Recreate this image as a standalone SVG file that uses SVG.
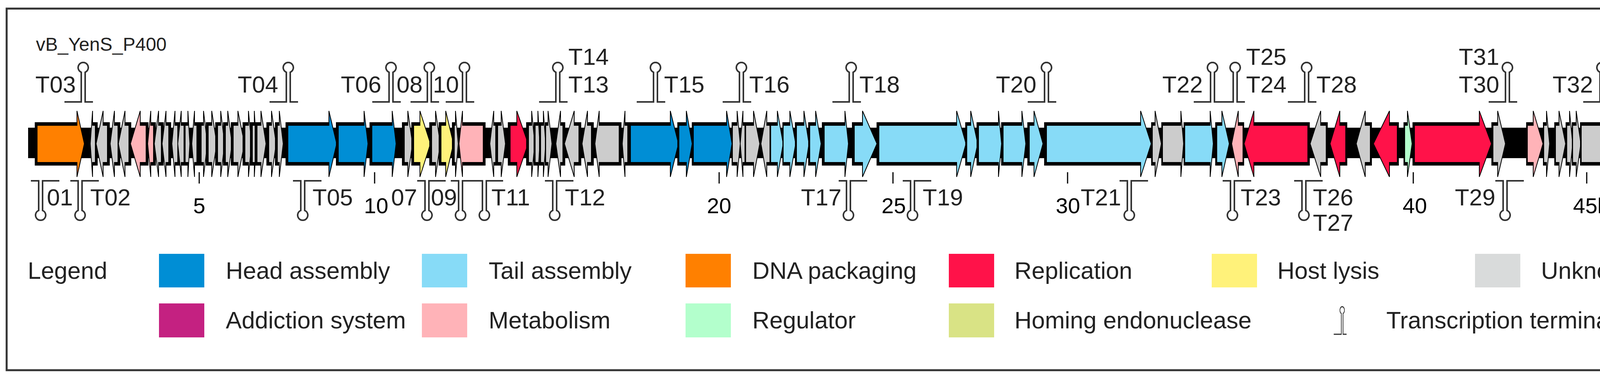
<svg xmlns="http://www.w3.org/2000/svg" xmlns:xlink="http://www.w3.org/1999/xlink" width="4284" height="968" viewBox="0 0 4284 968">
<style>
text{font-family:"Liberation Sans",Arial,sans-serif;fill:#222}
.lb{font-size:60px}
.sc{font-size:56px;fill:#000;text-anchor:middle}
.lg{font-size:61px}
.bx{fill:#000}
.gn{stroke:#000;stroke-width:2;stroke-linejoin:miter}
.O{fill:#FF8000}.G{fill:#CCCCCC}.P{fill:#FFB3B8}.B{fill:#008ED5}.L{fill:#87DBF7}.R{fill:#FF1249}.Y{fill:#FFF27A}.N{fill:#B3FFCC}
</style>
<defs>
<path id="term" d="M-48 0H-5V-76A13 13 0 1 1 5 -76V0H25" fill="#fff" stroke="#333" stroke-width="4"/>
</defs>
<rect x="17" y="22" width="4240" height="926" fill="#fff" stroke="#333" stroke-width="5"/>
<text x="92" y="130" style="font-size:48px">vB_YenS_P400</text>
<g id="genome">
<rect x="72" y="327" width="4134" height="78" fill="#000"/>
</g>
<g id="terminators">
<use href="#term" transform="translate(213,261)"/>
<use href="#term" transform="translate(738,261)"/>
<use href="#term" transform="translate(1001,261)"/>
<use href="#term" transform="translate(1099,261)"/>
<use href="#term" transform="translate(1189,261)"/>
<use href="#term" transform="translate(1428,261)"/>
<use href="#term" transform="translate(1678,261)"/>
<use href="#term" transform="translate(1898,261)"/>
<use href="#term" transform="translate(2179,261)"/>
<use href="#term" transform="translate(2679,261)"/>
<use href="#term" transform="translate(3104,261)"/>
<use href="#term" transform="translate(3162,261)"/>
<use href="#term" transform="translate(3345,261)"/>
<use href="#term" transform="translate(3859,261)"/>
<use href="#term" transform="translate(4101,261)"/>
<use href="#term" transform="translate(104,463) rotate(180)"/>
<use href="#term" transform="translate(205,463) rotate(180)"/>
<use href="#term" transform="translate(775,463) rotate(180)"/>
<use href="#term" transform="translate(1093,463) rotate(180)"/>
<use href="#term" transform="translate(1179,463) rotate(180)"/>
<use href="#term" transform="translate(1240,463) rotate(180)"/>
<use href="#term" transform="translate(1420,463) rotate(180)"/>
<use href="#term" transform="translate(2172,463) rotate(180)"/>
<use href="#term" transform="translate(2336,463) rotate(180)"/>
<use href="#term" transform="translate(2891,463) rotate(180)"/>
<use href="#term" transform="translate(3155,463) rotate(180)"/>
<use href="#term" transform="translate(3338,463) rotate(180)"/>
<use href="#term" transform="translate(3853,463) rotate(180)"/>
</g>
<g id="gene-list">
<g id="g1"><rect class="bx" x="89" y="313" width="108" height="111"/><polygon class="gn O" points="95,321 197,321 197,284 216,368 197,453 197,416 95,416"/></g>
<g id="g2"><rect class="bx" x="237" y="313" width="13" height="111"/><polygon class="gn G" points="244,321 237,321 237,284 231,368 237,453 237,416 244,416"/></g>
<g id="g3"><rect class="bx" x="264" y="313" width="17" height="111"/><polygon class="gn G" points="275,321 264,321 264,284 246,368 264,453 264,416 275,416"/></g>
<g id="g4"><rect class="bx" x="293" y="313" width="15" height="111"/><polygon class="gn G" points="302,321 293,321 293,284 282,368 293,453 293,416 302,416"/></g>
<g id="g5"><rect class="bx" x="320" y="313" width="16" height="111"/><polygon class="gn G" points="330,321 320,321 320,284 303,368 320,453 320,416 330,416"/></g>
<g id="g6"><rect class="bx" x="359" y="313" width="21" height="111"/><polygon class="gn P" points="374,321 359,321 359,284 334,368 359,453 359,416 374,416"/></g>
<g id="g7"><rect class="bx" x="386" y="313" width="13" height="111"/><polygon class="gn P" points="393,321 386,321 386,284 378,368 386,453 386,416 393,416"/></g>
<g id="g8"><rect class="bx" x="406" y="313" width="13" height="111"/><polygon class="gn G" points="413,321 406,321 406,284 395,368 406,453 406,416 413,416"/></g>
<g id="g9"><rect class="bx" x="425" y="313" width="13" height="111"/><polygon class="gn G" points="432,321 425,321 425,284 415,368 425,453 425,416 432,416"/></g>
<g id="g10"><rect class="bx" x="448" y="313" width="13" height="111"/><polygon class="gn G" points="455,321 448,321 448,284 440,368 448,453 448,416 455,416"/></g>
<g id="g11"><rect class="bx" x="464" y="313" width="12" height="111"/><polygon class="gn G" points="473,321 464,321 464,284 455,368 464,453 464,416 473,416"/></g>
<g id="g12"><rect class="bx" x="470" y="313" width="11" height="111"/><polygon class="gn G" points="474,321 481,321 481,284 486,368 481,453 481,416 474,416"/></g>
<g id="g13"><rect class="bx" x="498" y="313" width="12" height="111"/><polygon class="gn G" points="504,321 498,321 498,284 491,368 498,453 498,416 504,416"/></g>
<g id="g14"><rect class="bx" x="509" y="313" width="12" height="111"/><polygon class="gn G" points="515,321 521,321 521,284 531,368 521,453 521,416 515,416"/></g>
<g id="g15"><rect class="bx" x="527" y="313" width="15" height="111"/><polygon class="gn G" points="533,321 542,321 542,284 555,368 542,453 542,416 533,416"/></g>
<g id="g16"><rect class="bx" x="551" y="313" width="14" height="111"/><polygon class="gn G" points="557,321 565,321 565,284 575,368 565,453 565,416 557,416"/></g>
<g id="g17"><rect class="bx" x="571" y="313" width="12" height="111"/><polygon class="gn G" points="577,321 583,321 583,284 594,368 583,453 583,416 577,416"/></g>
<g id="g18"><rect class="bx" x="591" y="313" width="18" height="111"/><polygon class="gn G" points="597,321 609,321 609,284 626,368 609,453 609,416 597,416"/></g>
<g id="g19"><rect class="bx" x="621" y="313" width="15" height="111"/><polygon class="gn G" points="627,321 636,321 636,284 644,368 636,453 636,416 627,416"/></g>
<g id="g20"><rect class="bx" x="640" y="313" width="11" height="111"/><polygon class="gn G" points="646,321 651,321 651,284 656,368 651,453 651,416 646,416"/></g>
<g id="g21"><rect class="bx" x="652" y="313" width="16" height="111"/><polygon class="gn G" points="658,321 668,321 668,284 681,368 668,453 668,416 658,416"/></g>
<g id="g22"><rect class="bx" x="682" y="313" width="13" height="111"/><polygon class="gn G" points="688,321 695,321 695,284 707,368 695,453 695,416 688,416"/></g>
<g id="g23"><rect class="bx" x="704" y="313" width="11" height="111"/><polygon class="gn G" points="710,321 715,321 715,284 725,368 715,453 715,416 710,416"/></g>
<g id="g24"><rect class="bx" x="731" y="313" width="111" height="111"/><polygon class="gn B" points="737,321 842,321 842,284 862,368 842,453 842,416 737,416"/></g>
<g id="g25"><rect class="bx" x="860" y="313" width="72" height="111"/><polygon class="gn B" points="866,321 932,321 932,284 942,368 932,453 932,416 866,416"/></g>
<g id="g26"><rect class="bx" x="946" y="313" width="58" height="111"/><polygon class="gn B" points="952,321 1004,321 1004,284 1014,368 1004,453 1004,416 952,416"/></g>
<g id="g27"><rect class="bx" x="1029" y="313" width="15" height="111"/><polygon class="gn G" points="1035,321 1044,321 1044,284 1056,368 1044,453 1044,416 1035,416"/></g>
<g id="g28"><rect class="bx" x="1053" y="313" width="22" height="111"/><polygon class="gn Y" points="1059,321 1075,321 1075,284 1102,368 1075,453 1075,416 1059,416"/></g>
<g id="g29"><rect class="bx" x="1099" y="313" width="16" height="111"/><polygon class="gn G" points="1105,321 1115,321 1115,284 1127,368 1115,453 1115,416 1105,416"/></g>
<g id="g30"><rect class="bx" x="1123" y="313" width="18" height="111"/><polygon class="gn Y" points="1129,321 1141,321 1141,284 1161,368 1141,453 1141,416 1129,416"/></g>
<g id="g31"><rect class="bx" x="1157" y="313" width="9" height="111"/><polygon class="gn G" points="1163,321 1166,321 1166,284 1173,368 1166,453 1166,416 1163,416"/></g>
<g id="g32"><rect class="bx" x="1184" y="313" width="59" height="111"/><polygon class="gn P" points="1237,321 1184,321 1184,284 1175,368 1184,453 1184,416 1237,416"/></g>
<g id="g33"><rect class="bx" x="1264" y="313" width="13" height="111"/><polygon class="gn G" points="1271,321 1264,321 1264,284 1254,368 1264,453 1264,416 1271,416"/></g>
<g id="g34"><rect class="bx" x="1268" y="313" width="15" height="111"/><polygon class="gn G" points="1274,321 1283,321 1283,284 1294,368 1283,453 1283,416 1274,416"/></g>
<g id="g35"><rect class="bx" x="1300" y="313" width="23" height="111"/><polygon class="gn R" points="1306,321 1323,321 1323,284 1352,368 1323,453 1323,416 1306,416"/></g>
<g id="g36"><rect class="bx" x="1347" y="313" width="14" height="111"/><polygon class="gn G" points="1353,321 1361,321 1361,284 1369,368 1361,453 1361,416 1353,416"/></g>
<g id="g37"><rect class="bx" x="1366" y="313" width="11" height="111"/><polygon class="gn G" points="1370,321 1377,321 1377,284 1382,368 1377,453 1377,416 1370,416"/></g>
<g id="g38"><rect class="bx" x="1380" y="313" width="11" height="111"/><polygon class="gn G" points="1384,321 1391,321 1391,284 1397,368 1391,453 1391,416 1384,416"/></g>
<g id="g39"><rect class="bx" x="1395" y="313" width="8" height="111"/><polygon class="gn G" points="1397,321 1403,321 1403,284 1413,368 1403,453 1403,416 1397,416"/></g>
<g id="g40"><rect class="bx" x="1435" y="313" width="12" height="111"/><polygon class="gn G" points="1441,321 1435,321 1435,284 1423,368 1435,453 1435,416 1441,416"/></g>
<g id="g41"><rect class="bx" x="1470" y="313" width="18" height="111"/><polygon class="gn G" points="1482,321 1470,321 1470,284 1445,368 1470,453 1470,416 1482,416"/></g>
<g id="g42"><rect class="bx" x="1504" y="313" width="16" height="111"/><polygon class="gn G" points="1514,321 1504,321 1504,284 1490,368 1504,453 1504,416 1514,416"/></g>
<g id="g43"><rect class="bx" x="1534" y="313" width="57" height="111"/><polygon class="gn G" points="1585,321 1534,321 1534,284 1523,368 1534,453 1534,416 1585,416"/></g>
<g id="g44"><rect class="bx" x="1600" y="313" width="11" height="111"/><polygon class="gn G" points="1607,321 1600,321 1600,284 1593,368 1600,453 1600,416 1607,416"/></g>
<g id="g45"><rect class="bx" x="1610" y="313" width="106" height="111"/><polygon class="gn B" points="1614,321 1716,321 1716,284 1737,368 1716,453 1716,416 1614,416"/></g>
<g id="g46"><rect class="bx" x="1734" y="313" width="23" height="111"/><polygon class="gn B" points="1738,321 1757,321 1757,284 1772,368 1757,453 1757,416 1738,416"/></g>
<g id="g47"><rect class="bx" x="1771" y="313" width="89" height="111"/><polygon class="gn B" points="1775,321 1860,321 1860,284 1874,368 1860,453 1860,416 1775,416"/></g>
<g id="g48"><rect class="bx" x="1873" y="313" width="14" height="111"/><polygon class="gn G" points="1875,321 1887,321 1887,284 1895,368 1887,453 1887,416 1875,416"/></g>
<g id="g49"><rect class="bx" x="1902" y="313" width="7" height="111"/><polygon class="gn G" points="1907,321 1902,321 1902,284 1895,368 1902,453 1902,416 1907,416"/></g>
<g id="g50"><rect class="bx" x="1906" y="313" width="23" height="111"/><polygon class="gn G" points="1909,321 1929,321 1929,284 1945,368 1929,453 1929,416 1909,416"/></g>
<g id="g51"><rect class="bx" x="1963" y="313" width="10" height="111"/><polygon class="gn G" points="1971,321 1963,321 1963,284 1948,368 1963,453 1963,416 1971,416"/></g>
<g id="g52"><rect class="bx" x="1971" y="313" width="19" height="111"/><polygon class="gn L" points="1973,321 1990,321 1990,284 2005,368 1990,453 1990,416 1973,416"/></g>
<g id="g53"><rect class="bx" x="2003" y="313" width="19" height="111"/><polygon class="gn L" points="2005,321 2022,321 2022,284 2037,368 2022,453 2022,416 2005,416"/></g>
<g id="g54"><rect class="bx" x="2035" y="313" width="23" height="111"/><polygon class="gn L" points="2039,321 2058,321 2058,284 2071,368 2058,453 2058,416 2039,416"/></g>
<g id="g55"><rect class="bx" x="2069" y="313" width="19" height="111"/><polygon class="gn L" points="2073,321 2088,321 2088,284 2102,368 2088,453 2088,416 2073,416"/></g>
<g id="g56"><rect class="bx" x="2104" y="313" width="59" height="111"/><polygon class="gn L" points="2110,321 2163,321 2163,284 2172,368 2163,453 2163,416 2110,416"/></g>
<g id="g57"><rect class="bx" x="2181" y="313" width="27" height="111"/><polygon class="gn L" points="2187,321 2208,321 2208,284 2245,368 2208,453 2208,416 2187,416"/></g>
<g id="g58"><rect class="bx" x="2244" y="313" width="205" height="111"/><polygon class="gn L" points="2250,321 2449,321 2449,284 2473,368 2449,453 2449,416 2250,416"/></g>
<g id="g59"><rect class="bx" x="2471" y="313" width="14" height="111"/><polygon class="gn L" points="2475,321 2485,321 2485,284 2503,368 2485,453 2485,416 2475,416"/></g>
<g id="g60"><rect class="bx" x="2500" y="313" width="56" height="111"/><polygon class="gn L" points="2505,321 2556,321 2556,284 2564,368 2556,453 2556,416 2505,416"/></g>
<g id="g61"><rect class="bx" x="2563" y="313" width="53" height="111"/><polygon class="gn L" points="2568,321 2616,321 2616,284 2626,368 2616,453 2616,416 2568,416"/></g>
<g id="g62"><rect class="bx" x="2630" y="313" width="17" height="111"/><polygon class="gn L" points="2635,321 2647,321 2647,284 2670,368 2647,453 2647,416 2635,416"/></g>
<g id="g63"><rect class="bx" x="2673" y="313" width="247" height="111"/><polygon class="gn L" points="2679,321 2920,321 2920,284 2947,368 2920,453 2920,416 2679,416"/></g>
<g id="g64"><rect class="bx" x="2947" y="313" width="10" height="111"/><polygon class="gn G" points="2950,321 2957,321 2957,284 2973,368 2957,453 2957,416 2950,416"/></g>
<g id="g65"><rect class="bx" x="2973" y="313" width="50" height="111"/><polygon class="gn G" points="2976,321 3023,321 3023,284 3030,368 3023,453 3023,416 2976,416"/></g>
<g id="g66"><rect class="bx" x="3030" y="313" width="68" height="111"/><polygon class="gn L" points="3033,321 3098,321 3098,284 3106,368 3098,453 3098,416 3033,416"/></g>
<g id="g67"><rect class="bx" x="3111" y="313" width="17" height="111"/><polygon class="gn L" points="3115,321 3128,321 3128,284 3147,368 3128,453 3128,416 3115,416"/></g>
<g id="g68"><rect class="bx" x="3170" y="313" width="15" height="111"/><polygon class="gn P" points="3182,321 3170,321 3170,284 3153,368 3170,453 3170,416 3182,416"/></g>
<g id="g69"><rect class="bx" x="3210" y="313" width="143" height="111"/><polygon class="gn R" points="3348,321 3210,321 3210,284 3185,368 3210,453 3210,416 3348,416"/></g>
<g id="g70"><rect class="bx" x="3381" y="313" width="18" height="111"/><polygon class="gn G" points="3395,321 3381,321 3381,284 3354,368 3381,453 3381,416 3395,416"/></g>
<g id="g71"><rect class="bx" x="3430" y="313" width="19" height="111"/><polygon class="gn R" points="3445,321 3430,321 3430,284 3405,368 3430,453 3430,416 3445,416"/></g>
<g id="g72"><rect class="bx" x="3495" y="313" width="17" height="111"/><polygon class="gn G" points="3508,321 3495,321 3495,284 3472,368 3495,453 3495,416 3508,416"/></g>
<g id="g73"><rect class="bx" x="3557" y="313" width="24" height="111"/><polygon class="gn R" points="3577,321 3557,321 3557,284 3516,368 3557,453 3557,416 3577,416"/></g>
<g id="g74"><rect class="bx" x="3593" y="313" width="10" height="111"/><polygon class="gn N" points="3596,321 3603,321 3603,284 3615,368 3603,453 3603,416 3596,416"/></g>
<g id="g75"><rect class="bx" x="3616" y="313" width="171" height="111"/><polygon class="gn R" points="3621,321 3787,321 3787,284 3818,368 3787,453 3787,416 3621,416"/></g>
<g id="g76"><rect class="bx" x="3818" y="313" width="16" height="111"/><polygon class="gn G" points="3822,321 3834,321 3834,284 3854,368 3834,453 3834,416 3822,416"/></g>
<g id="g77"><rect class="bx" x="3907" y="313" width="18" height="111"/><polygon class="gn P" points="3910,321 3925,321 3925,284 3950,368 3925,453 3925,416 3910,416"/></g>
<g id="g78"><rect class="bx" x="3950" y="313" width="9" height="111"/><polygon class="gn G" points="3952,321 3959,321 3959,284 3967,368 3959,453 3959,416 3952,416"/></g>
<g id="g79"><rect class="bx" x="3979" y="313" width="12" height="111"/><polygon class="gn G" points="3982,321 3991,321 3991,284 4008,368 3991,453 3991,416 3982,416"/></g>
<g id="g80"><rect class="bx" x="4008" y="313" width="10" height="111"/><polygon class="gn G" points="4011,321 4018,321 4018,284 4026,368 4018,453 4018,416 4011,416"/></g>
<g id="g81"><rect class="bx" x="4024" y="313" width="11" height="111"/><polygon class="gn G" points="4026,321 4035,321 4035,284 4047,368 4035,453 4035,416 4026,416"/></g>
<g id="g82"><rect class="bx" x="4045" y="313" width="60" height="111"/><polygon class="gn G" points="4048,321 4105,321 4105,284 4114,368 4105,453 4105,416 4048,416"/></g>
<g id="g83"><rect class="bx" x="4113" y="313" width="10" height="111"/><polygon class="gn G" points="4116,321 4123,321 4123,284 4136,368 4123,453 4123,416 4116,416"/></g>
<g id="g84"><rect class="bx" x="4146" y="313" width="15" height="111"/><polygon class="gn G" points="4150,321 4161,321 4161,284 4185,368 4161,453 4161,416 4150,416"/></g>
</g>
<g id="scale" stroke="#000" stroke-width="3">
<line x1="510" y1="441" x2="510" y2="470"/><line x1="959" y1="441" x2="959" y2="470"/><line x1="1841" y1="441" x2="1841" y2="470"/><line x1="2286" y1="441" x2="2286" y2="470"/><line x1="2733" y1="441" x2="2733" y2="470"/><line x1="3618" y1="441" x2="3618" y2="470"/><line x1="4062" y1="441" x2="4062" y2="470"/>
</g>
<g id="scale-labels">
<text class="sc" x="510" y="546">5</text><text class="sc" x="963" y="546">10</text><text class="sc" x="1841" y="546">20</text><text class="sc" x="2288" y="546">25</text><text class="sc" x="2734" y="546">30</text><text class="sc" x="3622" y="546">40</text><text class="sc" x="4027" y="546" style="text-anchor:start">45kb</text>
</g>
<g id="term-labels" class="lb">
<text x="194" y="237" text-anchor="end">T03</text>
<text x="712" y="237" text-anchor="end">T04</text>
<text x="976" y="237" text-anchor="end">T06</text>
<text x="1082" y="237" text-anchor="end">08</text>
<text x="1175" y="237" text-anchor="end">10</text>
<text x="1455" y="237">T13</text>
<text x="1455" y="166">T14</text>
<text x="1700" y="237">T15</text>
<text x="1918" y="237">T16</text>
<text x="2200" y="237">T18</text>
<text x="2653" y="237" text-anchor="end">T20</text>
<text x="3079" y="237" text-anchor="end">T22</text>
<text x="3190" y="237">T24</text>
<text x="3190" y="166">T25</text>
<text x="3370" y="237">T28</text>
<text x="3838" y="237" text-anchor="end">T30</text>
<text x="3838" y="166" text-anchor="end">T31</text>
<text x="4078" y="237" text-anchor="end">T32</text>
<text x="120" y="526">01</text>
<text x="231" y="526">T02</text>
<text x="800" y="526">T05</text>
<text x="1068" y="526" text-anchor="end">07</text>
<text x="1170" y="526" text-anchor="end">09</text>
<text x="1258" y="526">T11</text>
<text x="1446" y="526">T12</text>
<text x="2154" y="526" text-anchor="end">T17</text>
<text x="2362" y="526">T19</text>
<text x="2870" y="526" text-anchor="end">T21</text>
<text x="3176" y="526">T23</text>
<text x="3361" y="526">T26</text>
<text x="3361" y="591">T27</text>
<text x="3828" y="526" text-anchor="end">T29</text>
</g>
<g id="legend" class="lg">
<text x="71" y="714">Legend</text>
<rect x="407" y="650" width="116" height="86" class="B"/><text x="578" y="714">Head assembly</text>
<rect x="1080" y="650" width="116" height="86" class="L"/><text x="1251" y="714">Tail assembly</text>
<rect x="1755" y="650" width="116" height="86" class="O"/><text x="1926" y="714">DNA packaging</text>
<rect x="2429" y="650" width="116" height="86" class="R"/><text x="2597" y="714">Replication</text>
<rect x="3102" y="650" width="116" height="86" class="Y"/><text x="3270" y="714">Host lysis</text>
<rect x="3776" y="650" width="116" height="86" fill="#D9DBDB"/><text x="3945" y="714">Unknown</text>
<rect x="407" y="777" width="116" height="87" fill="#C42181"/><text x="578" y="841">Addiction system</text>
<rect x="1080" y="777" width="116" height="87" class="P"/><text x="1251" y="841">Metabolism</text>
<rect x="1755" y="777" width="116" height="87" class="N"/><text x="1926" y="841">Regulator</text>
<rect x="2429" y="777" width="116" height="87" fill="#D9E385"/><text x="2597" y="841">Homing endonuclease</text>
<use href="#term" transform="translate(3436,856) scale(0.45,0.7)"/><text x="3549" y="841">Transcription terminator</text>
</g>
</svg>
